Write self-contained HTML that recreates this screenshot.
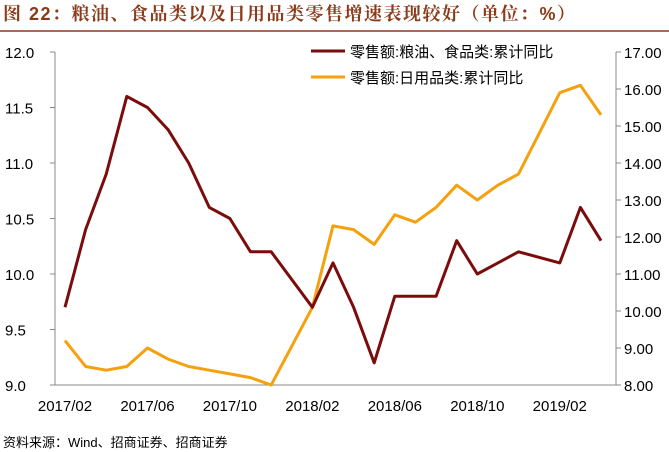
<!DOCTYPE html>
<html><head><meta charset="utf-8"><style>
body{margin:0;background:#fff;width:669px;height:452px;overflow:hidden;font-family:"Liberation Sans","Noto Sans CJK SC",sans-serif;}
</style></head><body>
<svg width="669" height="452" style="position:absolute;left:0;top:0">
<text x="3" y="20" font-size="18" font-weight="bold" fill="#8B3A1A" letter-spacing="1.5" font-family="'Liberation Sans','Noto Serif CJK SC',serif">图 22：粮油、食品类以及日用品类零售增速表现较好（单位：%）</text>
<line x1="0" y1="31" x2="669" y2="31" stroke="#8B3A1A" stroke-width="1.5"/>
<g id="axes"></g>
<g id="series"></g>
<g>
<line x1="311" y1="51" x2="345" y2="51" stroke="#7B0C0C" stroke-width="3"/>
<text x="350" y="57" font-size="15" fill="#000">零售额:粮油、食品类:累计同比</text>
<line x1="311" y1="77" x2="345" y2="77" stroke="#F5A10F" stroke-width="3"/>
<text x="350" y="83" font-size="15" fill="#000">零售额:日用品类:累计同比</text>
</g>
<text x="3" y="447" font-size="13" fill="#000">资料来源：Wind、招商证券、招商证券</text>
</svg>
<script>
const months=["2017/02","2017/03","2017/04","2017/05","2017/06","2017/07","2017/08","2017/09","2017/10","2017/11","2017/12","2018/01","2018/02","2018/03","2018/04","2018/05","2018/06","2018/07","2018/08","2018/09","2018/10","2018/11","2018/12","2019/01","2019/02","2019/03","2019/04"];
const foodValues=[9.7,10.4,10.9,11.6,11.5,11.3,11.0,10.6,10.5,10.2,10.2,null,9.7,10.1,9.7,9.2,9.8,9.8,9.8,10.3,10.0,10.1,10.2,null,10.1,10.6,10.3];
const dailyValues=[9.2,8.5,8.4,8.5,9.0,8.7,8.5,8.4,8.3,8.2,8.0,null,10.1,12.3,12.2,11.8,12.6,12.4,12.8,13.4,13.0,13.4,13.7,null,15.9,16.1,15.3];
const leftTicks=["9.0","9.5","10.0","10.5","11.0","11.5","12.0"];
const rightTicks=["8.00","9.00","10.00","11.00","12.00","13.00","14.00","15.00","16.00","17.00"];
const xTickLabels=["2017/02","2017/06","2017/10","2018/02","2018/06","2018/10","2019/02"];
const NS="http://www.w3.org/2000/svg";
const X0=65,X1=601,Y0=385,Y1=52;
const x=i=>X0+i*(X1-X0)/(months.length-1);
const yL=v=>Y0-(v-9)/3*(Y0-Y1);
const yR=v=>Y0-(v-8)/9*(Y0-Y1);
const ax=document.getElementById('axes'),se=document.getElementById('series');
function mk(t,a,p){const e=document.createElementNS(NS,t);for(const k in a)e.setAttribute(k,a[k]);p.appendChild(e);return e;}
let a=mk('line',{x1:55,y1:Y1,x2:55,y2:Y0,stroke:'#888'},ax);


a=mk('line',{x1:616,y1:Y1,x2:616,y2:Y0,stroke:'#888'},ax);


a=mk('line',{x1:55,y1:Y0,x2:616,y2:Y0,stroke:'#888'},ax);


leftTicks.forEach(t=>{const y=yL(+t);mk('line',{x1:50,y1:y,x2:55,y2:y,stroke:'#888'},ax);
const e=mk('text',{x:5,y:y+6,'font-size':15,fill:'#000'},ax);e.textContent=t;

});
rightTicks.forEach(t=>{const y=yR(+t);mk('line',{x1:616,y1:y,x2:621,y2:y,stroke:'#888'},ax);
const e=mk('text',{x:624,y:y+6,'font-size':15,fill:'#000'},ax);e.textContent=t;

});
xTickLabels.forEach(t=>{const i=months.indexOf(t);const e=mk('text',{x:x(i),y:411,'font-size':15,fill:'#000','text-anchor':'middle'},ax);e.textContent=t;

});
function line(vals,f,c,name){const pts=[];vals.forEach((v,i)=>{if(v!=null)pts.push(x(i).toFixed(1)+','+f(v).toFixed(1));});
const p=mk('polyline',{points:pts.join(' '),fill:'none',stroke:c,'stroke-width':3,'stroke-linejoin':'round'},se);

}
line(dailyValues,yR,'#F5A10F','daily-goods-line');
line(foodValues,yL,'#7B0C0C','food-grain-oil-line');
</script>
</body></html>
